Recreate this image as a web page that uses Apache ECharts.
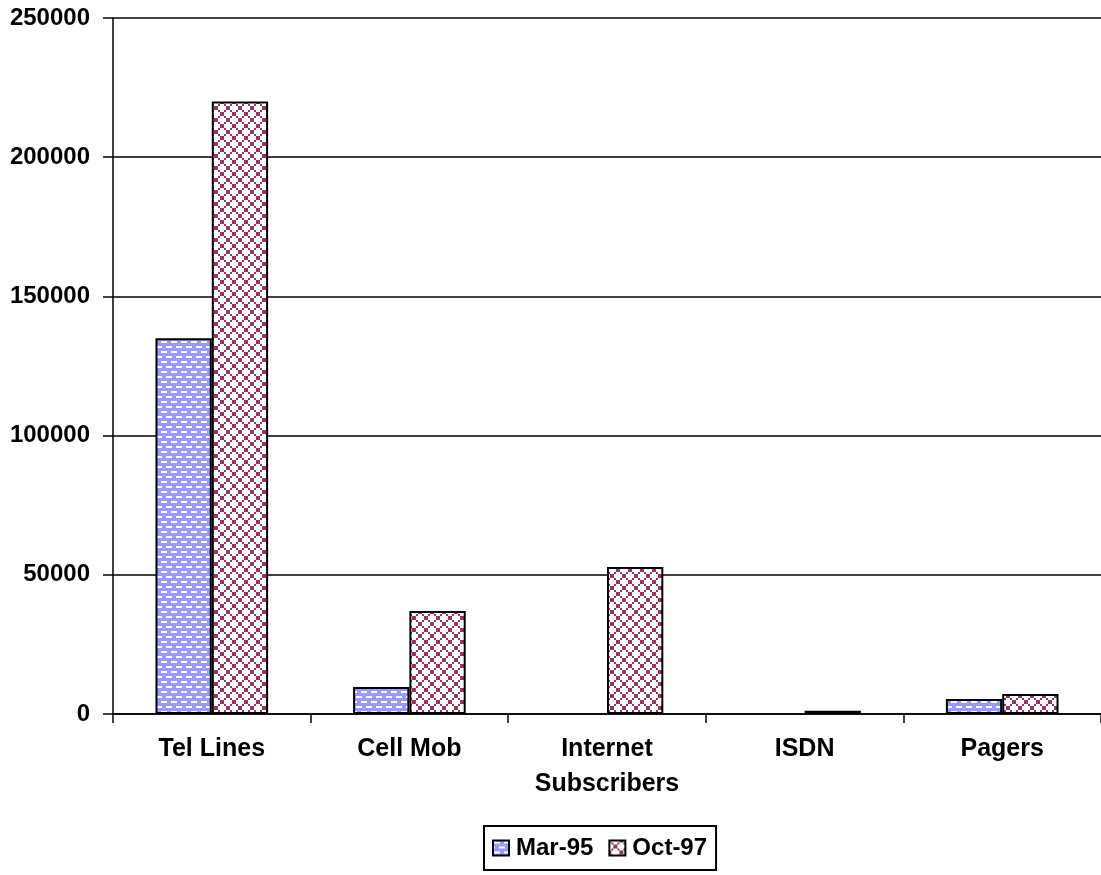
<!DOCTYPE html>
<html>
<head>
<meta charset="utf-8">
<style>
  html, body { margin: 0; padding: 0; background: #ffffff; }
  #chart { width: 1101px; height: 875px; }
</style>
<script src="https://cdn.jsdelivr.net/npm/echarts@6/dist/echarts.min.js"></script>
</head>
<body>
<div id="chart"></div>
<script>
// Subscriber counts by service
const categories = ['Tel Lines', 'Cell Mob', 'Internet\nSubscribers', 'ISDN', 'Pagers'];
const seriesNames = ['Mar-95', 'Oct-97'];
const mar95 = [135000, 9700, null, null, 5400];
const oct97 = [220000, 37000, 52800, 1200, 7200];
const yMax = 250000;
const yStep = 50000;

// Blue fill with staggered white dashes
function dashPattern() {
  const c = document.createElement('canvas');
  c.width = 10; c.height = 10;
  const g = c.getContext('2d');
  g.fillStyle = '#9999ff';
  g.fillRect(0, 0, 10, 10);
  g.fillStyle = '#ffffff';
  g.fillRect(1, 1, 6, 2);
  g.fillRect(6, 6, 4, 2);
  g.fillRect(0, 6, 2, 2);
  return c;
}

// White fill with a maroon diamond lattice
function diamondPattern() {
  const p = 12;
  const c = document.createElement('canvas');
  c.width = p; c.height = p;
  const g = c.getContext('2d');
  g.fillStyle = '#ffffff';
  g.fillRect(0, 0, p, p);
  g.fillStyle = '#993366';
  for (let i = 0; i < p / 2; i++) {
    g.fillRect(2 * i, 2 * i, 2, 2);
    g.fillRect(p - 2 - 2 * i, 2 * i, 2, 2);
  }
  return c;
}

const font = '"Liberation Sans", Arial, sans-serif';
const chart = echarts.init(document.getElementById('chart'), null, { renderer: 'canvas' });

chart.setOption({
  animation: false,
  backgroundColor: '#ffffff',
  grid: { left: 113, right: 0, top: 18, bottom: 161 },
  legend: {
    data: seriesNames,
    left: 484,
    top: 826,
    orient: 'horizontal',
    icon: 'rect',
    itemWidth: 16,
    itemHeight: 15,
    itemGap: 15,
    padding: [9, 9, 9, 8],
    borderColor: '#000000',
    borderWidth: 2,
    backgroundColor: '#ffffff',
    textStyle: {
      fontFamily: font, fontSize: 24, fontWeight: 'bold', color: '#000000',
      lineHeight: 26, padding: [0, 0, 0, 2]
    }
  },
  xAxis: {
    type: 'category',
    data: categories,
    axisLine: { lineStyle: { color: '#000000', width: 1.5 } },
    axisTick: { show: true, length: 9, interval: 0, lineStyle: { color: '#000000', width: 1.5 } },
    axisLabel: {
      interval: 0,
      margin: 18,
      fontFamily: font,
      fontSize: 25,
      fontWeight: 'bold',
      color: '#000000',
      lineHeight: 35
    },
    splitLine: { show: false }
  },
  yAxis: {
    type: 'value',
    min: 0,
    max: yMax,
    interval: yStep,
    axisLine: { show: true, lineStyle: { color: '#000000', width: 1.5 } },
    axisTick: { show: true, length: 10, lineStyle: { color: '#000000', width: 1.5 } },
    axisLabel: {
      margin: 23,
      fontFamily: font,
      fontSize: 24,
      fontWeight: 'bold',
      color: '#000000',
      formatter: (v) => String(v)
    },
    splitLine: { show: true, lineStyle: { color: '#000000', width: 1.5 } }
  },
  series: [
    {
      name: seriesNames[0],
      type: 'bar',
      data: mar95,
      barGap: '0%',
      barCategoryGap: '43%',
      itemStyle: {
        color: { image: dashPattern(), repeat: 'repeat' },
        borderColor: '#000000',
        borderWidth: 2
      }
    },
    {
      name: seriesNames[1],
      type: 'bar',
      data: oct97,
      barGap: '0%',
      barCategoryGap: '43%',
      itemStyle: {
        color: { image: diamondPattern(), repeat: 'repeat' },
        borderColor: '#000000',
        borderWidth: 2
      }
    }
  ]
});
</script>
</body>
</html>
